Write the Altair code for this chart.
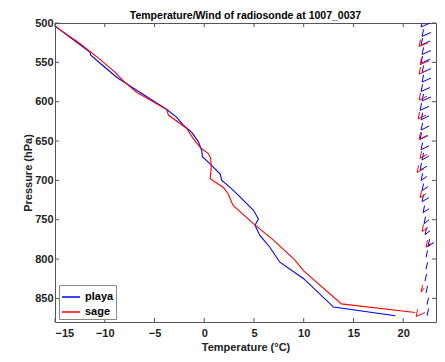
import altair as alt
import pandas as pd

# Temperature profiles (T in °C, pressure in hPa)
playa_T = [-15, -12.65, -11.5, -11.4, -10.2, -8.8, -7.1, -3.76, -2.76, -2.09, -1.25, -0.58, -0.25,
           -0.18, 0.6, 1.6, 1.77, 2.6, 3.6, 4.95, 5.45, 5.1, 5.6, 6.6, 7.6, 10.0, 13.0, 19.2]
playa_p = [504, 526, 537, 541, 554, 569, 583, 610, 620, 630, 639, 651, 662,
           670, 679, 692, 700, 709, 721, 738, 749, 757, 770, 785, 804, 825, 861, 872]
sage_T = [-15, -12.5, -10.6, -9.0, -8.0, -6.8, -3.76, -3.6, -1.75, -1.1, -0.41, 0.42, 0.66,
          0.7, 0.6, 1.93, 2.4, 2.77, 2.93, 4.95, 6.96, 9.1, 10.0, 13.8, 21.2]
sage_p = [504, 526, 545, 562, 575, 588, 610, 617, 634, 647, 658, 666, 672,
          685, 698, 709, 717, 728, 732, 755, 776, 801, 815, 857, 868]

# Wind barbs: level (hPa), staff position (°C axis), feather length (°C)
playa_wp = [505, 517, 528, 540, 551, 563, 575, 587, 599, 611, 623, 636, 648, 661, 674,
            687, 700, 713, 727, 741, 755, 769, 784, 798, 813, 828, 843, 858, 872]
playa_wx = [21.8, 21.9, 21.8, 21.9, 21.8, 21.9, 21.9, 21.8, 21.9, 21.7, 21.8, 21.8, 21.7, 21.8, 21.9,
            21.7, 21.8, 21.9, 21.9, 22.0, 22.1, 22.2, 22.5, 22.3, 22.3, 22.2, 22.3, 22.4, 22.4]
playa_wf = [0.9, 0.9, 0.9, 0.9, 0.9, 0.9, 0.9, 0.9, 0.9, 0.9, 0.8, 0.8, 0.8, 0.8, 0.7,
            0.7, 0.6, 0.6, 0.7, 0.6, 0.5, 0.5, 0.6, 0.0, 0.0, 0.0, 0.0, 0.0, 0.0]
sage_wp = [530, 553, 565, 598, 622, 648, 672, 690, 722, 765, 785, 842, 873]
sage_wx = [21.6, 21.7, 21.6, 21.6, 21.5, 21.6, 21.7, 21.4, 21.7, 21.9, 22.3, 21.8, 21.3]
sage_wf = [0.9, 0.9, 0.8, 0.8, 0.8, 0.8, 0.7, 0.7, 0.6, 0.6, 0.5, 0.3, 0.9]

x_ticks = [-15, -10, -5, 0, 5, 10, 15, 20]
y_ticks = [500, 550, 600, 650, 700, 750, 800, 850]

colors = {"playa": "#0000FF", "sage": "#FF0000"}

prof = pd.concat([
    pd.DataFrame({"T": playa_T, "p": playa_p, "site": "playa", "o": range(len(playa_T))}),
    pd.DataFrame({"T": sage_T, "p": sage_p, "site": "sage", "o": range(len(sage_T))}),
])

segs = []
for site, wp, wx, wf in [("playa", playa_wp, playa_wx, playa_wf), ("sage", sage_wp, sage_wx, sage_wf)]:
    for p, x, f in zip(wp, wx, wf):
        segs.append({"x": x + 0.15, "y": p - 9, "x2": x, "y2": p, "site": site})
        if f > 0:
            segs.append({"x": x, "y": p, "x2": x + f, "y2": p - 5, "site": site})
segs = pd.DataFrame(segs)

xdom = [-15, 23.3]
ydom = [500, 880]
xs = alt.Scale(domain=xdom, nice=False, zero=False)
ys = alt.Scale(domain=ydom, reverse=True, nice=False, zero=False)
cs = alt.Scale(domain=["playa", "sage"], range=[colors["playa"], colors["sage"]])

font = "Liberation Sans"
H = 299

lines = alt.Chart(prof).mark_line(strokeWidth=1.1, clip=True).encode(
    x=alt.X("T:Q", scale=xs, title="Temperature (°C)",
            axis=alt.Axis(values=x_ticks, grid=False, ticks=False, labelPadding=5, titlePadding=3,
                          domain=False, labelFontWeight="bold", titleFontWeight="bold")),
    y=alt.Y("p:Q", scale=ys, title="Pressure (hPa)",
            axis=alt.Axis(values=y_ticks, grid=False, ticks=False, labelPadding=2, titlePadding=1,
                          domain=False, labelFontWeight="bold", titleFontWeight="bold")),
    color=alt.Color("site:N", scale=cs, title=None,
                    legend=alt.Legend(orient="none", legendX=4, legendY=262,
                                      symbolType="stroke", symbolSize=324,
                                      symbolStrokeWidth=1.5, strokeColor="#888", fillColor="white",
                                      padding=2, labelFontSize=11, labelFontWeight="bold",
                                      labelOffset=4, rowPadding=0)),
    order="o:Q",
)

barbs = alt.Chart(segs).mark_rule(strokeWidth=1.0, clip=True).encode(
    x=alt.X("x:Q", scale=xs), x2="x2:Q",
    y=alt.Y("y:Q", scale=ys), y2="y2:Q",
    color=alt.Color("site:N", scale=cs, legend=None),
)

xt = pd.DataFrame({"v": x_ticks})
yt = pd.DataFrame({"v": y_ticks})
tick_style = dict(color="#555", strokeWidth=1)
xt_bot = alt.Chart(xt).mark_rule(**tick_style).encode(
    x=alt.X("v:Q", scale=xs), y=alt.value(H), y2=alt.value(H - 4))
xt_top = alt.Chart(xt).mark_rule(**tick_style).encode(
    x=alt.X("v:Q", scale=xs), y=alt.value(0), y2=alt.value(4))
yt_left = alt.Chart(yt).mark_rule(**tick_style).encode(
    y=alt.Y("v:Q", scale=ys), x=alt.value(0), x2=alt.value(4))
yt_right = alt.Chart(yt).mark_rule(**tick_style).encode(
    y=alt.Y("v:Q", scale=ys), x=alt.value(381), x2=alt.value(377))

chart = alt.layer(lines, barbs, xt_bot, xt_top, yt_left, yt_right).resolve_scale(color="shared").properties(
    width=381, height=H,
    title=alt.Title("Temperature/Wind of radiosonde at 1007_0037", fontSize=10.5, fontWeight="bold",
                    font=font, offset=0, dy=4),
    autosize=alt.AutoSizeParams(type="none"),
    padding={"left": 47, "top": 15, "right": 1, "bottom": 40},
).configure_view(stroke="#555", strokeWidth=1).configure_axis(
    labelFont=font, titleFont=font, labelFontSize=11, titleFontSize=11, labelColor="#222", titleColor="#222"
).configure_legend(labelFont=font)

chart.save("out.html", embed_options={"renderer": "svg", "actions": False})
